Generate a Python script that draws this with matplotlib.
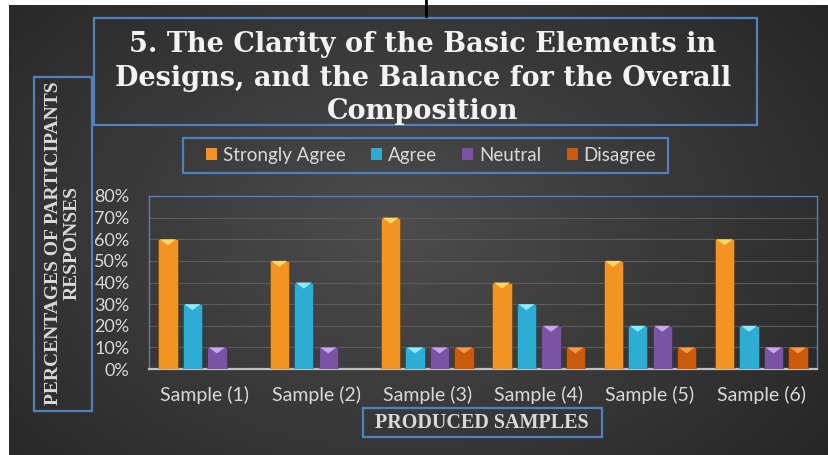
import matplotlib
matplotlib.use("Agg")
import matplotlib.pyplot as plt
from matplotlib.patches import Rectangle, Polygon
from matplotlib.lines import Line2D
import numpy as np

# data
samples = ["Sample (1)", "Sample (2)", "Sample (3)", "Sample (4)", "Sample (5)", "Sample (6)"]
strongly_agree = [0.60, 0.50, 0.70, 0.40, 0.50, 0.60]
agree = [0.30, 0.40, 0.10, 0.30, 0.20, 0.20]
neutral = [0.10, 0.10, 0.10, 0.20, 0.20, 0.10]
disagree = [0.00, 0.00, 0.10, 0.10, 0.10, 0.10]
series_names = ["Strongly Agree", "Agree", "Neutral", "Disagree"]
y_ticks = [0, 0.1, 0.2, 0.3, 0.4, 0.5, 0.6, 0.7, 0.8]

title = "5. The Clarity of the Basic Elements in\nDesigns, and the Balance for the Overall\nComposition"
y_title = "PERCENTAGES OF PARTICIPANTS\nRESPONSES"
x_title = "PRODUCED SAMPLES"

colors = ["#F39422", "#2DADD3", "#7C52A4", "#CC5A0C"]
caps = ["#FFD766", "#8DEBFA", "#CBA6EE", "#F39A4C"]
BLUE = "#4F81BD"
LIGHT = "#D9D9D9"
W, H = 829, 455


def fx(px):
    return px / W


def fy(py):
    return 1 - py / H


fig = plt.figure(figsize=(W / 100, H / 100), dpi=100, facecolor="white")

# dark gradient background (white strip on top/left as in the screenshot)
bg = fig.add_axes([fx(9), 0, 1 - fx(9), 1 - 5 / H], zorder=-10)
gx, gy = np.meshgrid(np.linspace(0, 1, 400), np.linspace(0, 1, 220))
r = np.sqrt(((gx - 0.47) / 0.75) ** 2 + ((gy - 0.5) / 0.95) ** 2)
shade = np.clip(0.30 - 0.17 * r, 0.15, 0.30)
bg.imshow(np.dstack([shade] * 3), aspect="auto", extent=[0, 1, 0, 1])
bg.axis("off")

ax = fig.add_axes([fx(149), fy(369), fx(817) - fx(149), fy(196) - fy(369)])
ax.patch.set_alpha(0)

x = np.arange(len(samples))
width = 0.175
step = 0.22
all_series = [strongly_agree, agree, neutral, disagree]
for i, vals in enumerate(all_series):
    off = (i - 1.5) * step
    bars = ax.bar(x + off, vals, width, color=colors[i], edgecolor="#00000040",
                  linewidth=0.6, zorder=3, label=series_names[i])
    # bevel highlight on top of each bar
    for b in bars:
        h = b.get_height()
        if h <= 0:
            continue
        x0, w = b.get_x(), b.get_width()
        tri = Polygon([(x0 + w * 0.08, h), (x0 + w * 0.92, h), (x0 + w / 2, h - 0.028)],
                      closed=True, facecolor=caps[i], edgecolor="none", zorder=4)
        ax.add_patch(tri)

ax.set_xlim(-0.5, len(samples) - 0.5)
ax.set_ylim(0, 0.8)
ax.set_yticks(y_ticks)
ax.set_yticklabels([f"{int(round(v * 100))}%" for v in y_ticks])
ax.set_xticks(x)
ax.set_xticklabels(samples)
ax.yaxis.grid(True, color="#5C5C5C", linewidth=0.8, zorder=0)
ax.set_axisbelow(True)
ax.tick_params(axis="both", length=0, colors=LIGHT)
ax.tick_params(axis="y", pad=14, labelsize=13)
ax.tick_params(axis="x", pad=12, labelsize=14)
for lab in ax.get_xticklabels() + ax.get_yticklabels():
    lab.set_family("Lato")
for s in ["left", "top", "right"]:
    ax.spines[s].set_color(BLUE)
    ax.spines[s].set_linewidth(1)
ax.spines["bottom"].set_color("#BFBFBF")
ax.spines["bottom"].set_linewidth(1.6)

# legend without frame, box drawn separately
handles = [Rectangle((0, 0), 1, 1, facecolor=c, edgecolor="none") for c in colors]
fig.legend(handles, series_names, loc="center", bbox_to_anchor=(fx(431), fy(155.5)),
           ncol=4, frameon=False, handlelength=0.6, handleheight=0.6,
           handletextpad=0.3, columnspacing=1.35,
           prop={"family": "Lato", "size": 13.5}, labelcolor=LIGHT)

# boxes
for (x0, y0, x1, y1) in [(94, 18, 757, 125), (183, 138, 668, 173),
                         (34, 77, 92, 411), (363, 408, 602, 437)]:
    fig.add_artist(Rectangle((fx(x0), fy(y1)), fx(x1) - fx(x0), fy(y0) - fy(y1),
                             transform=fig.transFigure, fill=False,
                             edgecolor=BLUE, linewidth=1.6))

fig.text(fx(423), fy(78), title, ha="center", va="center", fontsize=19.5,
         family="DejaVu Serif", weight="bold", color="#F2F2F2", linespacing=1.3)
fig.text(fx(63), fy(243), y_title, ha="center", va="center", rotation=90,
         fontsize=14, family="Liberation Serif", weight="bold", color=LIGHT,
         linespacing=1.1)
fig.text(fx(482), fy(423), x_title, ha="center", va="center", fontsize=14.5,
         family="Liberation Serif", weight="bold", color=LIGHT)

# stray black line from the screenshot edge
fig.add_artist(Line2D([fx(426), fx(426)], [1, fy(16)], transform=fig.transFigure,
                      color="black", linewidth=2))

fig.savefig("out.png", dpi=100, facecolor=fig.get_facecolor())
